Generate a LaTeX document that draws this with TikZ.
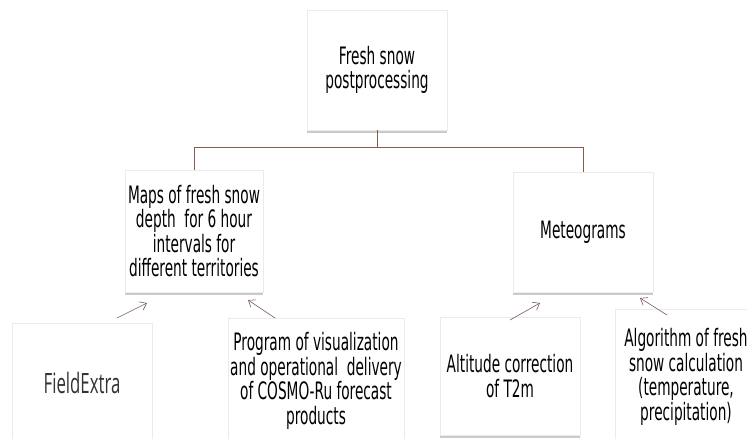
\documentclass[tikz,border=0pt]{standalone}
\usepackage{fontspec}
\setmainfont[FakeStretch=0.57]{DejaVu Sans}
\newfontfamily\fxfont[FakeStretch=0.60]{Open Sans}
\usetikzlibrary{shadows,arrows.meta}
\definecolor{conn}{HTML}{8A5A4C}
\definecolor{arr}{HTML}{7A5C5C}
\begin{document}
\begin{tikzpicture}[x=1pt,y=-1pt,
  box/.style={rectangle,fill=white,draw=black!8,line width=0.4pt,
    align=center,inner sep=2pt,font=\fontsize{24}{24.5}\selectfont,
    drop shadow={shadow xshift=0pt,shadow yshift=-2.5pt,opacity=0.35,fill=black!60}},
  conline/.style={draw=conn,line width=0.8pt},
  feed/.style={draw=arr,line width=0.6pt,-{Straight Barb[length=6pt,width=9pt]}}]
\useasboundingbox (0,0) rectangle (747,439);
\clip (0,0) rectangle (747,439);
\node[box,minimum width=140,minimum height=120] (top) at (377,70) {Fresh snow\\postprocessing};
\node[box,minimum width=138,minimum height=122] (maps) at (194,231) {Maps of fresh snow\\depth~ for 6 hour\\intervals for\\different territories};
\node[box,minimum width=140,minimum height=120] (meteo) at (583,232) {Meteograms};
\node[box,minimum width=140,minimum height=136,drop shadow={opacity=0}] (fx) at (82,391) {};
\node[font=\fxfont\fontsize{28}{30}\selectfont,text=black!80] (fxt) at (82,383) {FieldExtra};
\node[box,minimum width=172,minimum height=126] (prog) at (316,381) {Program of visualization\\and operational~ delivery\\of COSMO-Ru forecast\\products};
\node[box,minimum width=140,minimum height=118] (alt) at (510,376) {Altitude correction\\of T2m};
\node[box,minimum width=142,minimum height=136] (alg) at (686,377) {Algorithm of fresh\\snow calculation\\(temperature,\\precipitation)};
\draw[conline] (top.south) -- ++(0,17) coordinate (j);
\draw[conline] (j) -| (maps.north);
\draw[conline] (j) -| (meteo.north);
\coordinate (f1s) at (117,318); \coordinate (f1e) at (147,303);
\coordinate (f2s) at (275,318); \coordinate (f2e) at (248,300);
\coordinate (f3s) at (510,320); \coordinate (f3e) at (540,303);
\coordinate (f4s) at (667,315); \coordinate (f4e) at (640,298);
\draw[feed] (f1s) -- (f1e);
\draw[feed] (f2s) -- (f2e);
\draw[feed] (f3s) -- (f3e);
\draw[feed] (f4s) -- (f4e);
\end{tikzpicture}
\end{document}
